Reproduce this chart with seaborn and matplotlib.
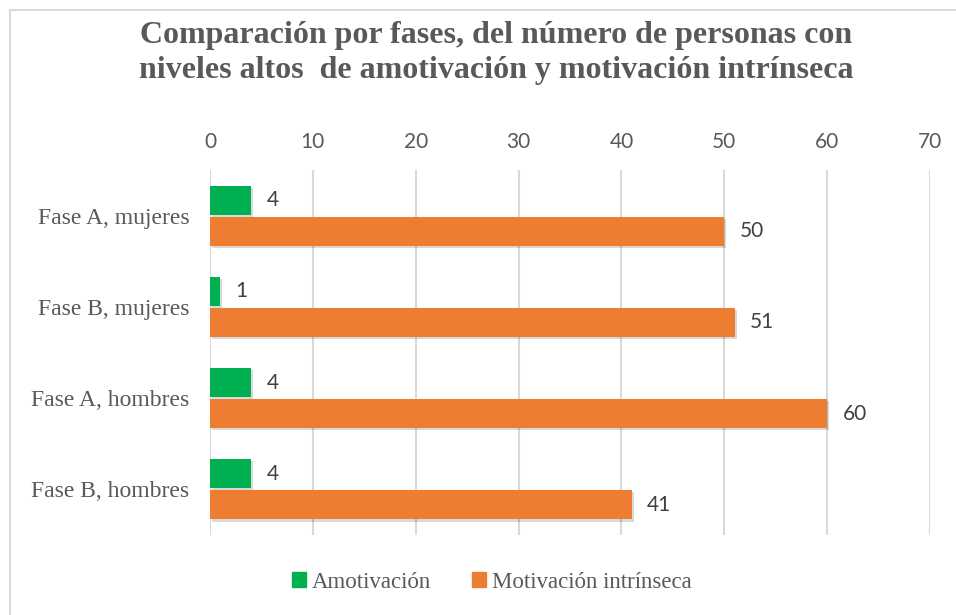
import matplotlib
matplotlib.use("Agg")
import matplotlib.pyplot as plt
import matplotlib.patheffects as pe
from matplotlib.patches import Rectangle
import seaborn as sns
import pandas as pd

categories = ["Fase A, mujeres", "Fase B, mujeres", "Fase A, hombres", "Fase B, hombres"]
amotivacion = [4, 1, 4, 4]
motivacion_intrinseca = [50, 51, 60, 41]
series_names = ["Amotivación", "Motivación intrínseca"]
x_ticks = [0, 10, 20, 30, 40, 50, 60, 70]
title = "Comparación por fases, del número de personas con\nniveles altos  de amotivación y motivación intrínseca"

df = pd.DataFrame({
    "cat": categories * 2,
    "serie": [series_names[0]] * 4 + [series_names[1]] * 4,
    "val": amotivacion + motivacion_intrinseca,
})

sns.set_theme(style="white")
plt.rcParams["font.family"] = ["Liberation Serif", "DejaVu Serif"]

W, H = 956, 615
fig = plt.figure(figsize=(W / 100, H / 100), dpi=100)
ax = fig.add_axes([210 / W, 1 - 535 / H, 720 / W, 365 / H])

palette = {series_names[0]: "#00B050", series_names[1]: "#ED7D31"}
sns.barplot(data=df, y="cat", x="val", hue="serie", order=categories,
            hue_order=series_names, palette=palette, orient="h",
            width=0.68, gap=0.06, ax=ax, legend=False, saturation=1)

shadow = [pe.SimplePatchShadow(offset=(1.5, -1.5), shadow_rgbFace="#000000", alpha=0.15), pe.Normal()]
for cont in ax.containers:
    for p in cont:
        p.set_edgecolor("none")
        p.set_path_effects(shadow)
    ax.bar_label(cont, padding=11, fontsize=15, color="#404040", family="Lato")

ax.set_xlim(0, 70)
ax.set_xticks(x_ticks)
ax.xaxis.tick_top()
ax.tick_params(axis="x", length=0, pad=13, labelsize=15, labelcolor="#595959")
for lab in ax.get_xticklabels():
    lab.set_family("Lato")
ax.tick_params(axis="y", length=0, pad=15, labelsize=17, labelcolor="#595959")
ax.set_xlabel("")
ax.set_ylabel("")
ax.grid(axis="x", color="#D9D9D9", linewidth=1.5)
ax.set_axisbelow(True)
for s in ax.spines.values():
    s.set_visible(False)

fig.text(496 / W, 1 - 53 / H, title, ha="center", va="center", fontsize=23,
         fontweight="bold", color="#595959", linespacing=1.27)

# legend
handles = [Rectangle((0, 0), 1, 1, color=palette[n]) for n in series_names]
fig.legend(handles, series_names, loc="center", bbox_to_anchor=(492 / W, 1 - 582 / H),
           ncol=2, frameon=False, fontsize=16.5, handlelength=0.6, handleheight=0.6,
           handletextpad=0.25, columnspacing=1.8, labelcolor="#595959")

# chart border
fig.add_artist(Rectangle((9.5 / W, -0.1), 1.2, 1 - 9.5 / H + 0.1, transform=fig.transFigure,
                         fill=False, edgecolor="#D9D9D9", linewidth=1.5))

fig.savefig("out.png", dpi=100)
